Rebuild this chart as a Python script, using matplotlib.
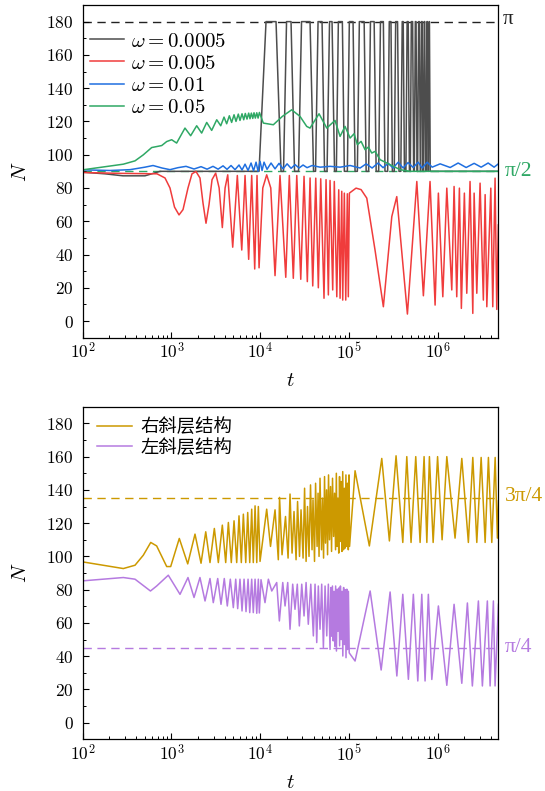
import numpy as np
import matplotlib
matplotlib.use("Agg")
import matplotlib.pyplot as plt
from matplotlib.ticker import FixedLocator, FuncFormatter, MultipleLocator, LogLocator, NullFormatter

# ---- data (x stored as log10(t)) ----
# top panel: omega = 0.0005
black_lgt = [2.000, 2.251, 2.454, 2.702, 2.871, 3.9876, 4.0665, 4.1793, 4.2356, 4.2638, 4.2976,
             4.3484, 4.3878, 4.4329, 4.4667, 4.5626, 4.602, 4.6246, 4.6528, 4.6979, 4.7261,
             4.7542, 4.7824, 4.8106, 4.8388, 4.8591, 4.8817, 4.9268, 4.9493, 4.9831, 5.0056,
             5.0474, 5.0699, 5.0958, 5.1184, 5.1725, 5.1950, 5.2232, 5.2435, 5.2852, 5.3078,
             5.3360, 5.3563, 5.3890, 5.4070, 5.4375, 5.4555, 5.4746, 5.4904, 5.5118, 5.5276,
             5.5490, 5.5648, 5.5857, 5.6015, 5.6128, 5.6263, 5.6432, 5.6567, 5.6691, 5.6826,
             5.6928, 5.7040, 5.7187, 5.7300, 5.7379, 5.7492, 5.7571, 5.7683, 5.7751, 5.7864,
             5.7943, 5.8055, 5.8100, 5.8191, 5.8258, 5.8348, 5.8405, 5.8495, 5.8551, 5.8642,
             5.8709, 5.8799, 5.8856, 5.8946, 5.8969, 5.9059, 5.9082, 5.9172, 6.685]
black_n = [89.5, 88.5, 87.3, 87.3, 90, 90, 180, 180, 90, 90, 180,
           180, 90, 90, 180, 180, 90, 90, 180, 180, 90,
           90, 180, 180, 90, 90, 180, 180, 90, 90, 180,
           180, 90, 90, 180, 180, 90, 90, 180, 180, 90,
           90, 180, 180, 90, 90, 180, 180, 90, 90, 180,
           180, 90, 90, 180, 180, 90, 90, 180, 180, 90,
           90, 180, 180, 90, 90, 180, 180, 90, 90, 180,
           180, 90, 90, 180, 180, 90, 90, 180, 180, 90,
           90, 180, 180, 90, 90, 180, 180, 90, 90]

# omega = 0.005
red_lgt = [2.000, 2.400, 2.838, 2.928, 2.984, 3.035, 3.086, 3.131, 3.187, 3.232, 3.277, 3.322,
           3.356, 3.390, 3.424, 3.458, 3.499, 3.538, 3.574, 3.605, 3.635, 3.691, 3.743, 3.793,
           3.830, 3.871, 3.905, 3.939, 3.965, 3.988, 4.030, 4.074, 4.120, 4.168, 4.224, 4.289,
           4.329, 4.374, 4.413, 4.458, 4.495, 4.532, 4.563, 4.593, 4.627, 4.656, 4.683, 4.720,
           4.743, 4.769, 4.788, 4.818, 4.836, 4.864, 4.886, 4.901, 4.920, 4.931, 4.949, 4.965,
           4.983, 4.994, 5.006, 5.081, 5.138, 5.202, 5.295, 5.389, 5.484, 5.540, 5.660, 5.766,
           5.840, 5.915, 5.972, 6.009, 6.059, 6.104, 6.160, 6.186, 6.216, 6.246, 6.268, 6.302,
           6.329, 6.366, 6.397, 6.412, 6.442, 6.479, 6.516, 6.536, 6.555, 6.600, 6.622, 6.648,
           6.667, 6.685]
red_n = [89.3, 88.8, 88.5, 86, 80, 68.5, 63.8, 67, 80, 88.5, 89.9, 86,
         71, 58.8, 70, 85, 88.9, 80, 56.2, 80, 87.9, 44.4, 87.5, 42.7,
         87.5, 37.1, 87.5, 31.3, 87.5, 32.0, 80, 87.9, 80, 27.3, 87.5, 26.3,
         87.5, 25.7, 87.5, 25.1, 87.0, 23.7, 86, 21.1, 85.9, 20.0, 85.5, 13.7,
         85, 15.7, 84.5, 18.7, 83.9, 14.6, 78.9, 13.7, 78, 12.6, 76.9, 12.6,
         76.5, 14.6, 76.9, 79.9, 79, 73.9, 42.7, 8.6, 62.8, 74.8, 4.2, 83.9,
         15.2, 83.9, 9.6, 76.9, 14.6, 79.9, 18.7, 80.9, 14.6, 79.9, 7.6, 76.9,
         16.7, 83.9, 4.6, 76.9, 16.7, 82.9, 12.6, 76, 8.6, 79.9, 8.6, 85.9,
         7, 57.8]

# omega = 0.01
blue_lgt = [2.000, 2.308, 2.533, 2.702, 2.793, 2.894, 2.984, 3.074, 3.165, 3.255, 3.334, 3.402,
            3.469, 3.526, 3.582, 3.627, 3.672, 3.717, 3.762, 3.796, 3.830, 3.864, 3.898, 3.926,
            3.954, 3.977, 3.999, 4.022, 4.044, 4.078, 4.123, 4.168, 4.213, 4.258, 4.304, 4.349,
            4.394, 4.439, 4.484, 4.529, 4.586, 4.676, 4.789, 4.901, 5.014, 5.127, 5.195, 5.262,
            5.330, 5.386, 5.443, 5.499, 5.556, 5.612, 5.668, 5.725, 5.781, 5.826, 5.883, 5.939,
            6.029, 6.142, 6.232, 6.322, 6.412, 6.491, 6.570, 6.637, 6.685]
blue_n = [90.9, 90.5, 91.0, 92.5, 93.5, 92.0, 91.0, 92.2, 93.0, 91.4, 92.8, 91.3,
          93.0, 91.3, 93.3, 91.2, 93.5, 91.0, 93.8, 90.8, 94.3, 90.5, 95.0, 90.3,
          95.5, 90.0, 96.0, 90.5, 95.5, 91.2, 95.0, 91.5, 94.8, 91.5, 94.5, 91.8,
          94.0, 92.0, 93.8, 92.2, 93.5, 92.5, 93.0, 92.5, 93.5, 92.0, 94.5, 92.0,
          95.0, 92.2, 94.8, 92.0, 95.5, 92.0, 95.3, 92.3, 95.5, 92.0, 95.5, 92.5,
          94.5, 92.3, 95.0, 92.3, 94.8, 92.5, 95.0, 92.5, 94.5]

# omega = 0.05
green_lgt = [2.000, 2.458, 2.590, 2.683, 2.778, 2.835, 2.891, 2.947, 3.003, 3.059, 3.153, 3.217,
             3.285, 3.341, 3.398, 3.454, 3.511, 3.556, 3.593, 3.623, 3.653, 3.679, 3.706, 3.728,
             3.754, 3.773, 3.796, 3.815, 3.833, 3.852, 3.871, 3.886, 3.901, 3.917, 3.931, 3.946,
             3.962, 3.977, 3.992, 4.036, 4.149, 4.250, 4.356, 4.450, 4.525, 4.562, 4.664, 4.751,
             4.844, 4.901, 4.957, 5.014, 5.059, 5.096, 5.138, 5.183, 5.220, 5.258, 5.296, 5.352,
             5.465, 5.577, 5.690, 6.685]
green_n = [90.9, 94.3, 96.3, 99.9, 104.3, 104.9, 105.5, 107.9, 109.0, 107.0, 116.0, 111.4,
           117.4, 113.0, 119.4, 114.6, 121.0, 117.4, 122.6, 118.6, 123.4, 119.4, 124.0, 120.0,
           124.4, 120.6, 124.6, 121.0, 124.8, 121.4, 125.0, 121.6, 125.0, 121.8, 125.2, 122.0,
           125.2, 122.0, 125.4, 119, 118, 123, 127, 123, 117, 116, 124.6, 116,
           120.6, 111, 117, 110, 112.6, 106, 108, 103, 104.6, 101, 102, 97,
           94, 91, 90, 90]

# bottom panel: right-tilted layers
gold_lgt = [2.000, 2.458, 2.590, 2.683, 2.767, 2.834, 2.947, 2.992, 3.089, 3.184, 3.266, 3.334,
            3.387, 3.435, 3.484, 3.529, 3.574, 3.612, 3.642, 3.675, 3.706, 3.736, 3.762, 3.788,
            3.811, 3.838, 3.860, 3.883, 3.905, 3.923, 3.943, 3.962, 3.980, 3.999,
            4.074, 4.117, 4.168, 4.205, 4.219, 4.247, 4.286, 4.315, 4.337, 4.360, 4.382, 4.405,
            4.422, 4.444, 4.461, 4.484, 4.501, 4.518, 4.534, 4.551, 4.568, 4.585, 4.596, 4.613,
            4.625, 4.642, 4.653, 4.664, 4.675, 4.692, 4.703, 4.715, 4.726, 4.737, 4.749, 4.760,
            4.771, 4.782, 4.794, 4.805, 4.816, 4.828, 4.839, 4.850, 4.859, 4.868, 4.877, 4.886,
            4.895, 4.904, 4.913, 4.922, 4.931, 4.940, 4.949, 4.958, 4.967, 4.976, 4.985, 4.994,
            5.002, 5.008,
            5.070, 5.231, 5.371, 5.457, 5.532, 5.608, 5.653, 5.701, 5.754, 5.803, 5.848, 5.879,
            5.908, 5.950, 6.000, 6.051, 6.104, 6.197, 6.273, 6.347, 6.397, 6.442, 6.491, 6.536,
            6.573, 6.611, 6.649, 6.674, 6.686]
gold_n = [96.7, 92.7, 94.7, 100.7, 108.4, 106.3, 93.9, 93.9, 110.8, 95.5, 113.4, 95.9,
          114.8, 96.3, 116.8, 96.3, 118.8, 96.3, 120.4, 96.3, 121.4, 96.3, 124.4, 96.3,
          125.4, 96.3, 126.4, 96.3, 128.4, 96.3, 130.4, 96.3, 130, 97,
          128.4, 106, 128, 98, 135.5, 101, 124, 99, 137.5, 102, 127, 98,
          133, 100, 128, 99, 141, 97, 130, 100, 143, 104, 134, 97,
          144, 106, 138, 100, 147, 104, 135, 99, 148, 108, 140, 101,
          149, 110, 142, 103, 147, 112, 138, 104, 150, 106, 135, 102,
          148, 109, 145, 103, 151, 104, 141, 105, 149, 106, 144, 104,
          149, 106,
          151.5, 106.3, 158.9, 109.3, 160.5, 108.4, 160, 108.4, 160, 108.4, 160, 108.4,
          160, 108.4, 160, 110, 160, 111, 158.9, 108.4, 159.5, 108.4, 159.5, 108.4,
          159.5, 108.4, 159.5, 111, 133.4]

# left-tilted layers
purple_lgt = [2.000, 2.458, 2.590, 2.764, 2.834, 2.965, 3.097, 3.187, 3.255, 3.322, 3.379, 3.435,
              3.472, 3.522, 3.559, 3.596, 3.630, 3.664, 3.698, 3.725, 3.747, 3.773, 3.796, 3.819,
              3.841, 3.864, 3.883, 3.905, 3.923, 3.943, 3.962, 3.980, 3.991, 4.010,
              4.055, 4.093, 4.131, 4.187, 4.217, 4.255, 4.281, 4.311, 4.337, 4.367, 4.393, 4.419,
              4.442, 4.469, 4.495, 4.518, 4.543, 4.571, 4.600, 4.619, 4.638, 4.656, 4.675, 4.694,
              4.713, 4.732, 4.751, 4.769, 4.788, 4.797, 4.806, 4.815, 4.824, 4.833, 4.842, 4.851,
              4.860, 4.869, 4.878, 4.887, 4.896, 4.905, 4.914, 4.923, 4.932, 4.941, 4.950, 4.959,
              4.968, 4.977, 4.986, 4.995, 5.004,
              5.070, 5.240, 5.364, 5.465, 5.541, 5.608, 5.671, 5.727, 5.777, 5.822, 5.859, 5.896,
              5.935, 6.009, 6.104, 6.186, 6.273, 6.336, 6.392, 6.460, 6.505, 6.561, 6.592, 6.629,
              6.648, 6.686]
purple_n = [85.3, 87.3, 86.3, 79.2, 82.2, 88.7, 77.2, 87.3, 75.3, 87.3, 73.2, 86.7,
            72.2, 86.7, 71.2, 86.7, 70.2, 86.3, 69.2, 86.3, 68.6, 86.3, 67.2, 86.3,
            66.8, 86.3, 66.2, 86.3, 66.2, 86.3, 65.8, 86.3, 66, 86,
            72.2, 86.3, 79.2, 84.3, 61.2, 84.3, 70.2, 84.3, 56.2, 83.3, 68.2, 83.3,
            58.2, 83.3, 64.2, 84.3, 59.2, 83.3, 52.2, 83.3, 48.2, 82.2, 56.2, 83.3,
            45.2, 82.2, 52.2, 83.3, 44.1, 81.3, 52, 82.2, 49.2, 79, 46, 82.2,
            43.1, 80.3, 55, 81, 46.2, 82.2, 50, 79, 40.1, 81.3, 47, 80,
            39.1, 80.3, 44, 79, 42,
            37.1, 79.2, 31.7, 78.6, 28.1, 77.2, 26.1, 77.2, 25.1, 77.2, 25.1, 77.2,
            26, 70.2, 22.5, 71.2, 23.7, 72, 22.1, 73.2, 22.1, 73.2, 22.1, 73.2,
            22.1, 71.2]

top_labels = [r'$\omega = 0.0005$', r'$\omega = 0.005$', r'$\omega = 0.01$', r'$\omega = 0.05$']
bottom_labels = ['右斜层结构', '左斜层结构']
y_ticks = [0, 20, 40, 60, 80, 100, 120, 140, 160, 180]

c_black, c_red, c_blue, c_green = '#4d4d4d', '#f03c3c', '#1f6fe0', '#2fa865'
c_gold, c_purple = '#cc9900', '#b57ae0'

plt.rcParams['mathtext.fontset'] = 'cm'
plt.rcParams['font.family'] = ['DejaVu Serif', 'Noto Sans CJK SC']
plt.rcParams['axes.linewidth'] = 0.9

fig = plt.figure(figsize=(5.45, 7.91), dpi=100)
ax1 = fig.add_axes([0.1517, 0.5731, 0.7621, 0.4206])
ax2 = fig.add_axes([0.1517, 0.0653, 0.7621, 0.4205])

dash = (0, (6, 4))
lw = 1.1


def style(ax):
    ax.set_xscale('log')
    ax.set_xlim(1e2, 4.8e6)
    ax.set_ylim(-10, 190)
    ax.xaxis.set_major_locator(FixedLocator([1e2, 1e3, 1e4, 1e5, 1e6]))
    ax.xaxis.set_major_formatter(FuncFormatter(lambda v, p: r'$10^{%d}$' % round(np.log10(v))))
    ax.xaxis.set_minor_locator(LogLocator(base=10, subs=np.arange(2, 10), numticks=20))
    ax.xaxis.set_minor_formatter(NullFormatter())
    ax.yaxis.set_major_locator(FixedLocator(y_ticks))
    ax.yaxis.set_major_formatter(FuncFormatter(lambda v, p: r'$%d$' % v))
    ax.yaxis.set_minor_locator(MultipleLocator(10))
    ax.tick_params(which='both', direction='in', top=False, right=False, labelsize=12.5)
    ax.tick_params(axis='y', which='major', pad=6.5)
    ax.tick_params(which='major', length=4, width=0.8)
    ax.tick_params(which='minor', length=2.2, width=0.7)
    ax.set_xlabel(r'$t$', fontsize=15, labelpad=6)
    ax.set_ylabel(r'$N$', fontsize=15, labelpad=12)


style(ax1)
style(ax2)

# top panel
ax1.axhline(180, color='#222222', lw=1.0, ls=dash, zorder=1)
ax1.axhline(90, color=c_green, lw=1.0, ls=dash, zorder=1)
ax1.plot(10 ** np.array(black_lgt), black_n, color=c_black, lw=lw, label=top_labels[0])
ax1.plot(10 ** np.array(red_lgt), red_n, color=c_red, lw=lw, label=top_labels[1])
ax1.plot(10 ** np.array(blue_lgt), blue_n, color=c_blue, lw=lw, label=top_labels[2])
ax1.plot(10 ** np.array(green_lgt), green_n, color=c_green, lw=lw, label=top_labels[3])
tr1 = ax1.get_yaxis_transform()
ax1.text(1.012, 181, 'π', color='#222222', fontsize=15, family='Liberation Serif',
         transform=tr1, va='center', ha='left')
ax1.text(1.017, 90, 'π/2', color=c_green, fontsize=15.5, family='Liberation Serif',
         transform=tr1, va='center', ha='left')
ax1.legend(loc='upper left', bbox_to_anchor=(0.0176, 0.92), frameon=False, fontsize=15,
           handlelength=1.65, labelspacing=0.15, handletextpad=0.3, borderaxespad=0,
           borderpad=0)

# bottom panel
ax2.axhline(135, color=c_gold, lw=1.0, ls=dash, zorder=1)
ax2.axhline(45, color=c_purple, lw=1.0, ls=dash, zorder=1)
ax2.plot(10 ** np.array(gold_lgt), gold_n, color=c_gold, lw=lw, label=bottom_labels[0])
ax2.plot(10 ** np.array(purple_lgt), purple_n, color=c_purple, lw=lw, label=bottom_labels[1])
tr2 = ax2.get_yaxis_transform()
ax2.text(1.017, 136, '3π/4', color=c_gold, fontsize=15.5, family='Liberation Serif',
         transform=tr2, va='center', ha='left')
ax2.text(1.017, 45, 'π/4', color=c_purple, fontsize=15.5, family='Liberation Serif',
         transform=tr2, va='center', ha='left')
ax2.legend(loc='upper left', bbox_to_anchor=(0.0344, 0.966), frameon=False,
           prop={'family': ['Noto Sans CJK SC'], 'size': 13.2},
           handlelength=1.9, labelspacing=0.15, handletextpad=0.45, borderaxespad=0,
           borderpad=0)

fig.savefig('out.png', dpi=100)
